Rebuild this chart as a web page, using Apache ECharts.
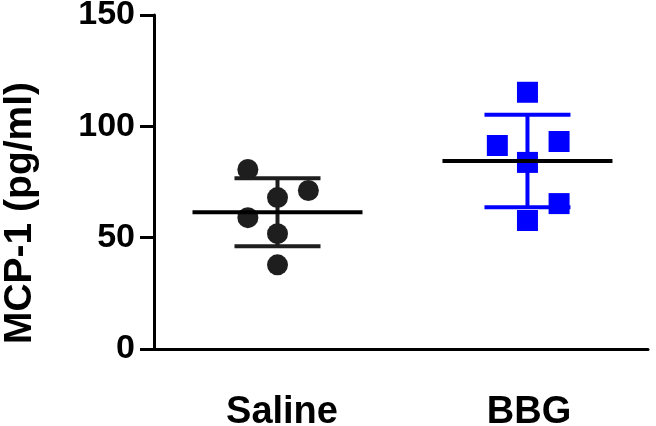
<!DOCTYPE html>
<html>
<head>
<meta charset="utf-8">
<script src="https://cdn.jsdelivr.net/npm/echarts@6/dist/echarts.min.js"></script>
<style>
  html, body { margin: 0; padding: 0; background: #fff; }
  #main { width: 656px; height: 426px; }
</style>
</head>
<body>
<div id="main"></div>
<script>
// groups on the x axis
var categories = ['Saline', 'BBG'];
// MCP-1 values (pg/ml)
var salineValues = [80.6, 71.2, 68.0, 59.0, 51.8, 37.8];
var bbgValues = [115.3, 91.4, 93.2, 83.8, 65.3, 57.7];
// horizontal scatter of the points, in category units
var salineJitter = [-0.12, 0.125, 0, -0.12, 0, 0];
var bbgJitter = [0.012, -0.11, 0.14, 0.012, 0.14, 0.012];
var summaryShift = [0, 0.012];
// y axis ticks
var yMin = 0, yMax = 150, yStep = 50;

var groupColors = ['#1e1e1e', '#0000ff'];
var fontFam = '"Liberation Sans", Arial, sans-serif';

function mean(a) {
    var s = 0;
    for (var i = 0; i < a.length; i++) s += a[i];
    return s / a.length;
}
function sd(a) {
    var m = mean(a), s = 0;
    for (var i = 0; i < a.length; i++) s += (a[i] - m) * (a[i] - m);
    return Math.sqrt(s / (a.length - 1));
}
function points(idx, vals, jit) {
    var out = [];
    for (var i = 0; i < vals.length; i++) out.push([idx + jit[i], vals[i]]);
    return out;
}

var groups = [salineValues, bbgValues];
var summary = [];
for (var g = 0; g < groups.length; g++) {
    summary.push([g + summaryShift[g], mean(groups[g]), sd(groups[g]), g]);
}

var myChart = echarts.init(document.getElementById('main'));
var option = {
    animation: false,
    grid: {
        left: 154,
        right: 8,
        top: 15,
        bottom: 77,
        containLabel: false,
        outerBoundsMode: 'none'
    },
    xAxis: [{
        type: 'category',
        data: categories,
        boundaryGap: true,
        axisLine: { lineStyle: { color: '#000', width: 3 } },
        axisTick: { alignWithLabel: true, length: 14, lineStyle: { color: '#000', width: 3 } },
        axisLabel: {
            margin: 45,
            padding: [0, 0, 0, 9],
            color: '#000',
            fontFamily: fontFam,
            fontWeight: 'bold',
            fontSize: 38
        }
    }, {
        type: 'value',
        min: -0.5,
        max: 1.5,
        show: false
    }],
    yAxis: {
        type: 'value',
        min: yMin,
        max: yMax,
        interval: yStep,
        splitLine: { show: false },
        axisLine: { show: true, onZero: false, lineStyle: { color: '#000', width: 3 } },
        axisTick: { show: true, length: 14, lineStyle: { color: '#000', width: 3 } },
        axisLabel: {
            margin: 19,
            color: '#000',
            fontFamily: fontFam,
            fontWeight: 'bold',
            fontSize: 34
        }
    },
    graphic: [{
        type: 'text',
        x: 20,
        y: 213,
        rotation: Math.PI / 2,
        style: {
            text: 'MCP-1 (pg/ml)',
            fill: '#000',
            font: 'bold 39px ' + fontFam,
            align: 'center',
            verticalAlign: 'middle'
        }
    }],
    series: [{
            name: 'Saline',
            type: 'scatter',
            xAxisIndex: 1,
            symbol: 'circle',
            symbolSize: 21,
            itemStyle: { color: groupColors[0], opacity: 1 },
            data: points(0, salineValues, salineJitter),
            z: 2
        },
        {
            name: 'BBG',
            type: 'scatter',
            xAxisIndex: 1,
            symbol: 'rect',
            symbolSize: 21,
            itemStyle: { color: groupColors[1], opacity: 1 },
            data: points(1, bbgValues, bbgJitter),
            z: 2
        },
        {
            // mean line with SD bars
            type: 'custom',
            xAxisIndex: 1,
            z: 3,
            data: summary,
            renderItem: function (params, api) {
                var x = api.value(0), m = api.value(1), s = api.value(2);
                var col = groupColors[api.value(3)];
                var c = api.coord([x, m]);
                var t = api.coord([x, m + s]);
                var b = api.coord([x, m - s]);
                var cap = 43, half = 85;
                var bar = { stroke: col, lineWidth: 4 };
                return {
                    type: 'group',
                    children: [
                        { type: 'line', shape: { x1: t[0], y1: t[1], x2: b[0], y2: b[1] }, style: bar },
                        { type: 'line', shape: { x1: t[0] - cap, y1: t[1], x2: t[0] + cap, y2: t[1] }, style: bar },
                        { type: 'line', shape: { x1: b[0] - cap, y1: b[1], x2: b[0] + cap, y2: b[1] }, style: bar },
                        { type: 'line', shape: { x1: c[0] - half, y1: c[1], x2: c[0] + half, y2: c[1] }, style: { stroke: '#000', lineWidth: 4 } }
                    ]
                };
            }
        }
    ]
};
myChart.setOption(option);
</script>
</body>
</html>
